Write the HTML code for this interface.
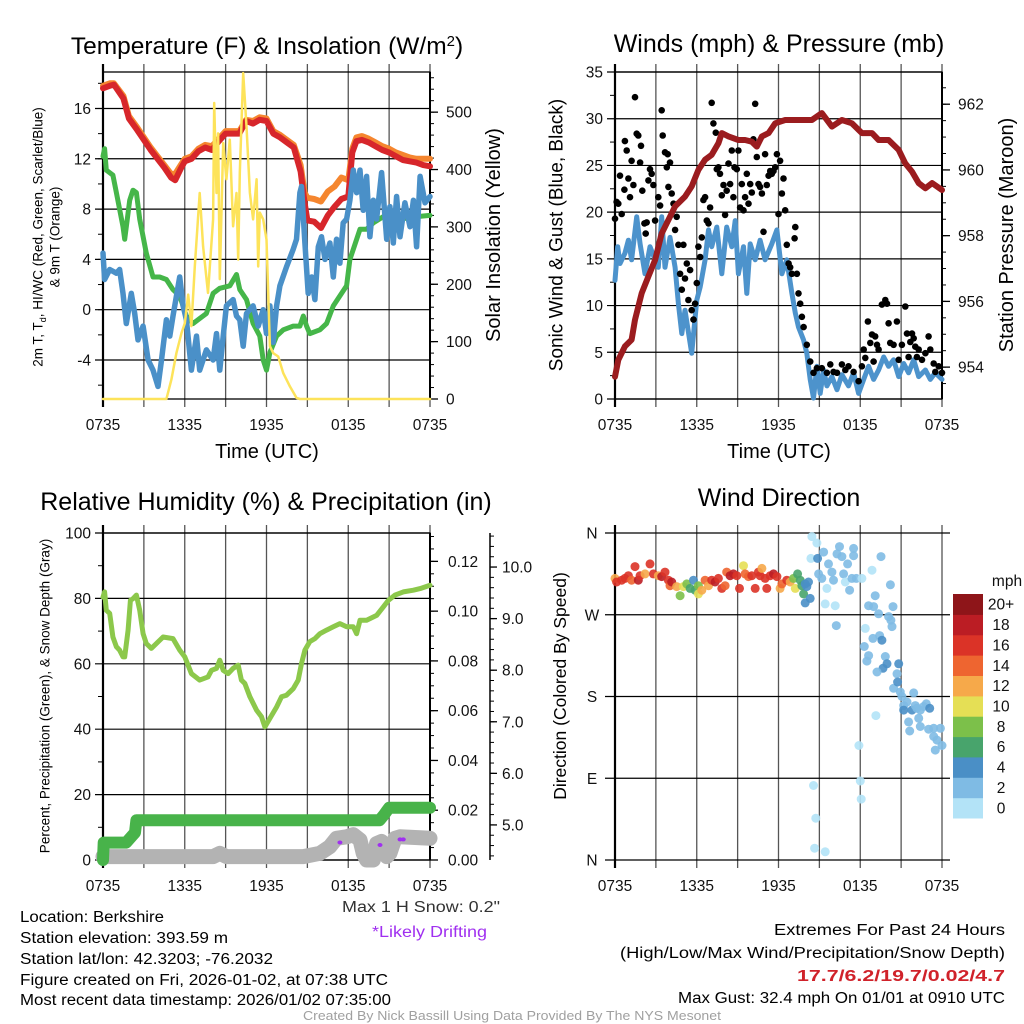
<!DOCTYPE html>
<html><head><meta charset="utf-8"><title>Berkshire Mesonet Meteogram</title>
<style>
html,body{margin:0;padding:0;background:#fff;}
svg{display:block;font-family:"Liberation Sans",sans-serif;}
</style></head>
<body>
<svg id="chart" width="1024" height="1024" viewBox="0 0 1024 1024" xmlns="http://www.w3.org/2000/svg">
<rect x="0" y="0" width="1024" height="1024" fill="#fff"/>
<text x="267" y="54" font-size="24.5" text-anchor="middle" fill="#000">Temperature (F) &amp; Insolation (W/m<tspan baseline-shift="super" font-size="15">2</tspan>)</text>
<text x="779" y="52" font-size="25" text-anchor="middle" fill="#000">Winds (mph) &amp; Pressure (mb)</text>
<text x="266" y="510" font-size="25" text-anchor="middle" fill="#000">Relative Humidity (%) &amp; Precipitation (in)</text>
<text x="779" y="506" font-size="25" text-anchor="middle" fill="#000">Wind Direction</text>

<text transform="translate(38,237) rotate(-90)" font-size="13.5" text-anchor="middle" dominant-baseline="central">2m T, T<tspan baseline-shift="sub" font-size="9">d</tspan>, HI/WC (Red, Green, Scarlet/Blue)</text>
<text transform="translate(55,237) rotate(-90)" font-size="13.5" text-anchor="middle" dominant-baseline="central">&amp; 9m T (Orange)</text>
<text transform="translate(494,235) rotate(-90)" font-size="20" text-anchor="middle" dominant-baseline="central">Solar Insolation (Yellow)</text>
<text transform="translate(557,235) rotate(-90)" font-size="19" text-anchor="middle" dominant-baseline="central">Sonic Wind &amp; Gust (Blue, Black)</text>
<text transform="translate(1007,235) rotate(-90)" font-size="20" text-anchor="middle" dominant-baseline="central">Station Pressure (Maroon)</text>
<text transform="translate(45,696) rotate(-90)" font-size="13.5" text-anchor="middle" dominant-baseline="central">Percent, Precipitation (Green), &amp; Snow Depth (Gray)</text>
<text transform="translate(560,686) rotate(-90)" font-size="17.5" text-anchor="middle" dominant-baseline="central">Direction (Colored By Speed)</text>
<text x="267" y="458" font-size="20" text-anchor="middle">Time (UTC)</text>
<text x="779" y="458" font-size="20" text-anchor="middle">Time (UTC)</text>

<g id="footer" font-size="15.5" fill="#000">
<text x="342" y="912" textLength="158" lengthAdjust="spacingAndGlyphs" fill="#333">Max 1 H Snow: 0.2"</text>
<text x="372" y="937" textLength="115" lengthAdjust="spacingAndGlyphs" fill="#a030f0">*Likely Drifting</text>
<text x="20" y="922" textLength="144" lengthAdjust="spacingAndGlyphs">Location: Berkshire</text>
<text x="20" y="943" textLength="208" lengthAdjust="spacingAndGlyphs">Station elevation: 393.59 m</text>
<text x="20" y="964" textLength="253" lengthAdjust="spacingAndGlyphs">Station lat/lon: 42.3203; -76.2032</text>
<text x="20" y="985" textLength="368" lengthAdjust="spacingAndGlyphs">Figure created on Fri, 2026-01-02, at 07:38 UTC</text>
<text x="20" y="1005" textLength="371" lengthAdjust="spacingAndGlyphs">Most recent data timestamp: 2026/01/02 07:35:00</text>
<text x="774" y="935" textLength="231" lengthAdjust="spacingAndGlyphs">Extremes For Past 24 Hours</text>
<text x="620" y="958" textLength="385" lengthAdjust="spacingAndGlyphs">(High/Low/Max Wind/Precipitation/Snow Depth)</text>
<text x="797" y="981" textLength="208" lengthAdjust="spacingAndGlyphs" fill="#d0222a" font-weight="bold">17.7/6.2/19.7/0.02/4.7</text>
<text x="678" y="1003" textLength="327" lengthAdjust="spacingAndGlyphs">Max Gust: 32.4 mph On 01/01 at 0910 UTC</text>
<text x="303" y="1020" textLength="418" lengthAdjust="spacingAndGlyphs" font-size="12.5" fill="#a0a0a0">Created By Nick Bassill Using Data Provided By The NYS Mesonet</text>
</g>
</svg>
<script>
// ---------------- DATA ----------------
const timeTickLabels = ['0735','1335','1935','0135','0735'];
const timeTickHours = [0,6,12,18,24];

// Temperature panel
const tempTimes = [0,0.5,0.8,1.5,1.9,2.5,3,3.5,4,4.5,5,5.3,5.7,6,6.5,7,7.5,8,8.5,9,9.5,10,10.5,11,11.5,12,12.5,13,13.5,14,14.5,14.8,15,15.5,16,16.5,17,17.5,18,18.3,18.6,19,19.5,20,20.5,21,21.5,22,22.5,23,23.5,24];
const tempRed = [17.6,17.8,17.9,16.8,15.2,14.3,13.5,12.7,12,11.3,10.5,10.3,11.2,11.8,12,12.6,12.9,12.7,13.4,14,14,14,15,14.8,15.1,15,14,13.7,13.3,12.9,11,8.5,7.1,7,6.5,7.5,8.2,8.8,9,12.5,13.4,13.5,13.3,13,12.7,12.5,12.2,11.9,11.8,11.7,11.5,11.4];
const temp9m = [17.8,18,18,17,15.4,14.5,13.7,12.9,12.2,11.5,10.8,10.8,11.5,12,12.2,12.8,13.1,13,13.6,14.2,14.2,14.2,15.1,15,15.3,15.2,14.2,13.9,13.5,13.1,11.5,9.3,8.9,8.8,8.6,9.4,9.8,10.5,10.3,12.8,13.7,13.8,13.6,13.3,13,12.8,12.5,12.3,12.1,12,12,12];
const dewTimes = [0,0.12,0.24,0.73,0.98,1.47,1.59,1.96,2.2,2.45,2.69,3.18,3.67,4.16,4.65,5.14,5.63,6.12,6.61,7.1,7.59,8.08,8.57,9.31,9.8,10.04,10.53,11.02,11.51,11.76,12,12.25,12.74,13.23,13.96,14.45,14.7,14.94,15.18,15.92,16.41,16.9,17.39,17.88,18.12,18.37,18.86,19.35,19.84,20.57,21.8,23.02,24];
const dewValues = [12.2,12.8,11.1,10.7,9.3,6.6,5.6,8.7,9.5,9.3,7.2,4.5,2.6,2.6,2.4,1.6,1.1,-0.5,-1.1,-0.7,-0.3,1.3,1.7,1.9,2.8,1.6,0.8,-1.1,-2.1,-4,-4.8,-3.4,-2.1,-1.6,-1.3,-1.3,-0.5,-1.3,-1.9,-1.6,-1.1,0.3,1.1,1.9,4,4.8,6.4,6.4,6.9,7.4,7.2,7.4,7.5];
const chillTimes = [0,0.12,0.49,0.98,1.22,1.47,1.71,2.08,2.33,2.57,2.94,3.31,3.67,4.04,4.29,4.65,4.9,5.14,5.63,5.88,6.12,6.49,6.86,7.1,7.59,8.08,8.33,8.57,8.82,9.06,9.55,9.8,10.04,10.29,10.53,11.02,11.39,11.76,12,12.25,12.49,12.74,12.98,13.47,13.96,14.2,14.45,14.57,14.82,15.06,15.31,15.55,15.8,16.04,16.29,16.65,16.9,17.14,17.39,17.63,17.88,18.12,18.37,18.61,18.86,19.1,19.35,19.59,19.84,20.08,20.45,20.82,21.06,21.31,21.55,21.8,22.16,22.53,22.78,23.02,23.27,23.63,24];
const chillValues = [4.5,2.4,3.2,2.9,3.2,1.3,-1.1,1.3,-0.3,-2.4,-1.3,-4,-4.8,-6.1,-4,-0.8,-2.1,-0.5,2.6,0.3,-0.8,-4.8,-2.1,-4.8,-3.2,-4,-1.9,-4.8,-2.1,0.3,0.8,-0.5,-0.8,-2.9,-0.3,0.3,-1.3,0,-1.9,0.3,-2.6,0.3,1.9,3.4,4.8,5.6,9.3,9.8,5.3,1.3,2.6,0.8,5,5.8,4,5.3,2.6,5.6,3.7,6.9,7.2,8.7,11.1,9.3,11.1,7.9,10.6,5.8,8.7,7.2,10.9,5.6,8.2,5.3,9,5.8,8.5,6.6,8.7,5,10.6,8.5,9];
const solarTimes = [0,4.65,5.02,5.39,5.76,6,6.25,6.49,6.74,7.1,7.35,7.71,8.08,8.16,8.33,8.45,8.57,8.82,9.06,9.31,9.55,9.8,9.92,10.04,10.29,10.53,10.78,11.02,11.27,11.39,11.51,11.76,12,12.25,12.49,12.86,13.23,13.72,14.2,14.45,24];
const solarValues = [0,0,34,80,115,132,182,127,231,359,266,185,313,516,359,463,209,446,383,452,301,359,243,394,568,475,359,313,383,231,325,313,278,92,80,74,45,22,2,0,0];
const tempTicks = [-4,0,4,8,12,16];
const solarTicks = [0,100,200,300,400,500];

// Wind panel
const windTimes = [0,0.2,0.37,0.73,0.98,1.22,1.59,1.84,2.2,2.57,2.94,3.18,3.43,3.67,4.04,4.41,4.65,4.9,5.14,5.63,6,6.25,6.61,6.86,7.1,7.47,7.84,8.2,8.57,8.82,9.06,9.43,9.67,9.92,10.29,10.65,11.02,11.51,11.88,12.25,12.61,12.98,13.23,13.47,13.84,14.08,14.33,14.57,14.82,15.06,15.31,15.55,15.92,16.29,16.65,17.14,17.51,17.88,18.25,18.61,18.98,19.35,19.72,20.08,20.45,20.82,21.19,21.55,21.92,22.29,22.78,23.14,23.51,24];
const windValues = [12.7,16.3,14.5,15.6,17,14.9,19.5,16.6,13.4,16.3,14.9,14.1,19.5,14.1,17.3,14.1,10.2,7,9.5,4.9,10.6,12,14.9,18.1,16.3,18.4,13.4,18.4,16.3,19.1,13.4,16.3,11.3,16.6,14.9,17,14.9,16.6,18.1,13.4,14.9,11.3,9.2,7.7,6.3,4.9,2.1,0.1,3.5,0.6,3.1,1.4,2.4,1,2.6,1.4,2.8,0.6,2.1,3.5,2.1,3.1,4.5,3.5,4.2,2.4,3.8,2.8,4.2,2.4,3.1,2.1,2.8,2.1];
const gustTimes = [0,0.12,0.24,0.49,0.37,0.73,0.86,0.69,0.98,1.1,1.22,1.35,1.47,1.59,1.71,1.84,1.91,2.0,2.16,2.25,2.33,2.45,2.57,2.69,2.82,2.94,3.18,3.31,3.43,3.5,3.67,3.87,3.8,3.92,4.04,4.16,4.29,4.41,4.53,4.65,4.78,4.9,5.02,5.14,5.27,5.39,5.51,5.63,5.76,5.88,6,6.12,6.25,6.37,6.49,6.61,6.74,6.86,6.98,7.1,7.22,7.4,7.47,7.59,7.71,7.84,7.96,8.08,8.2,8.33,8.45,8.57,8.69,8.77,8.94,9.06,9.18,9.31,9.43,9.55,9.67,9.8,9.92,10.04,10.16,10.29,10.41,10.53,10.65,10.78,10.9,11.02,11.14,11.27,11.39,11.51,11.63,11.76,11.88,12,12.12,12.25,12.37,12.49,12.61,12.74,12.86,12.98,13.18,13.23,13.35,13.47,13.59,13.72,13.84,14.08,14.33,14.57,14.82,15.18,15.55,15.8,16.04,16.29,16.65,16.9,17.14,17.51,17.88,18.12,18.25,18.37,18.56,18.74,18.86,18.98,19.1,19.23,19.35,19.59,19.84,19.96,20.08,20.2,20.45,20.69,20.82,21.06,21.31,21.43,21.55,21.67,21.8,21.92,22.04,22.16,22.29,22.53,22.78,23.02,23.14,23.39,23.51,23.76,24];
const gustValues = [19.3,21.1,20.9,19.8,23.9,27.6,26.6,22.4,23.6,21.6,25.5,22.9,32.3,28.4,28.2,25.3,27.1,22.3,18.8,17.7,18.9,23.4,24.6,24.1,22.9,19.1,21.6,20.7,30.9,28.2,26.4,26.2,24.8,22.7,25.3,22,20.9,18.1,19.5,16.5,13.4,11.7,16.5,12.9,14.5,10.6,13.8,9.5,8.5,10.2,12.4,16.3,15.2,17.3,21.3,21.6,19.1,18.8,20.5,31.7,29.5,28.5,24.6,24.8,24.1,21.8,22.9,19.7,22.3,25.2,23,26.6,21.6,24.8,24.6,26.6,20.5,23,20.2,21.6,24.1,20.9,23,22.1,27.8,31.6,25.9,23,22.7,22,17.9,26.2,22.9,23.9,24.4,24.1,24.4,24.8,26.2,19.8,25.5,22,23.6,20.2,16.5,14.5,14.1,13.4,17.2,18.4,13.4,11.3,10.2,8.8,7.7,5.8,4,2.8,3.3,3.3,2.8,3.7,2.9,2.8,3.7,3.1,3.5,2.9,1.9,3.5,5.3,4.4,8.3,6,6.9,4,6.7,5.8,5.3,10.1,10.6,10.2,8.1,6,5.8,8.3,4.2,5.8,9.9,7,4.5,6.1,7,6.5,5.6,4.5,5.3,4.2,4.9,6.7,5.3,3.8,2.9,3.5,2.8];
const pressTimes = [0,0.24,0.73,1.22,1.47,1.96,2.45,2.94,3.43,3.92,4.41,5.14,5.63,6.12,6.61,7.1,7.59,7.84,8.33,9.06,9.55,10.04,10.41,10.78,11.27,11.76,12.49,13.47,14.45,15.18,15.92,16.65,17.39,18.12,18.86,19.35,20.08,20.82,21.31,21.8,22.29,22.78,23.27,24];
const pressValues = [953.71,954.22,954.63,954.83,955.44,956.25,956.76,957.26,958.07,958.48,958.89,959.19,959.5,960.0,960.31,960.46,960.81,961.12,961.02,960.91,960.91,960.86,960.71,961.02,961.12,961.42,961.52,961.52,961.52,961.73,961.32,961.52,961.42,961.12,961.12,960.91,960.91,960.61,960.2,959.95,959.6,959.44,959.6,959.39];
const windTicks = [0,5,10,15,20,25,30,35];
const pressTicks = [954,956,958,960,962];

// Humidity panel
const rhTimes = [0,0.12,0.24,0.49,0.73,0.98,1.22,1.47,1.59,1.84,2.01,2.2,2.45,2.69,2.94,3.18,3.55,3.92,4.41,5.14,5.63,6,6.49,7.1,7.71,7.96,8.33,8.57,8.82,9.18,9.55,9.92,10.16,10.41,10.78,11.27,11.63,11.88,12.25,12.74,13.1,13.47,13.96,14.33,14.57,14.82,15.18,15.55,15.92,16.41,16.9,17.39,17.88,18.37,18.61,18.86,19.35,20.08,20.57,20.94,21.43,22.04,22.78,23.27,24];
const rhValues = [80.4,82,76.4,75.4,68.2,65.2,64.2,62.1,62.1,70.3,79.4,79.9,81,76.4,69.2,66.2,64.7,66.2,68.2,67.7,64.2,62.1,57,55,56,58,58.6,61.1,58,57,58.6,59.6,55,54,49.9,45.8,43.8,40.7,43.3,46.8,49.9,50.4,52.4,55,60.1,64.2,66.8,67.7,69.2,70.3,71.3,72.3,71.3,71.3,69.2,73.3,73.3,74.8,77.4,79.4,81,82,82.5,83,84];
const precipTimes = [0,0.05,1.7,2.1,2.35,2.45,20.3,20.6,21,24];
const precipValues = [0,0.007,0.007,0.0095,0.011,0.016,0.016,0.018,0.021,0.021];
const snowTimes = [0,8.08,8.57,9.06,14.7,15.92,16.65,17.14,17.88,18.37,18.86,19.1,19.35,19.84,20.08,20.45,20.82,21.06,21.43,21.8,24];
const snowValues = [4.385,4.385,4.45,4.385,4.385,4.45,4.58,4.74,4.77,4.81,4.71,4.45,4.32,4.32,4.64,4.68,4.385,4.45,4.74,4.77,4.74];
const driftTimes = [17.39,20.33,21.8,22.04];
const driftValues = [4.66,4.61,4.72,4.72];
const rhTicks = [0,20,40,60,80,100];
const precipTicks = [0,0.02,0.04,0.06,0.08,0.10,0.12];
const snowTicks = [5,6,7,8,9,10];

// Wind direction panel
const dirTimes = [0,0.12,0.49,0.73,0.98,1.22,1.47,1.71,1.84,2.2,2.57,2.82,3.18,3.43,3.67,3.92,4.04,4.16,4.53,4.78,5.02,5.27,5.51,5.76,5.88,6.12,6.12,6.37,6.61,6.86,7.1,7.35,7.59,7.84,8.08,8.2,8.45,8.69,8.94,9.14,9.43,9.55,9.8,10.04,10.29,10.53,10.65,10.78,11.02,11.14,11.39,11.63,11.88,12.12,12.25,12.61,12.86,13.1,13.23,13.4,13.59,13.72,13.84,13.96,14.08,14.2,14.33,13.96,
 14.45,14.82,14.38,14.87,15.31,15.67,14.94,15.18,15.55,15.43,15.92,16.04,16.16,16.29,16.48,16.65,16.78,16.9,17.07,17.22,17.39,17.51,17.51,17.71,18.12,18.86,19.52,16.24,20.21,19.1,18.61,18.98,19.35,20.08,20.25,20.4,20.33,18.37,18.3,18.61,18.49,18.93,19.42,19.59,19.84,19.96,19.67,19.23,20.45,20.7,20.74,20.82,20.94,21.06,21.19,21.43,21.19,21.8,21.92,22.04,22.16,22.41,22.29,22.65,22.85,23.1,21.55,21.63,22.41,23.02,23.39,23.88,23.39,23.63,24,23.51,19.15,17.9,18.0,18.07,14.57,14.74,14.65,15.43];
const dirValues = [310,306,308,310,313,308,323,308,313,315,326,315,313,312,317,308,302,306,301,291,301,304,299,308,297,302,293,297,308,302,308,306,310,299,302,317,313,315,313,299,324,315,312,313,299,317,313,321,310,299,313,315,312,299,304,308,306,310,299,315,308,302,293,304,301,306,288,283,
 356,349,332,332,339,326,315,310,299,282,317,308,280,337,345,334,315,306,326,297,310,343,335,310,310,319,334,258,303,291,280,279,271,268,264,279,257,255,235,225,219,244,247,242,224,216,211,207,189,205,196,216,185,180,170,174,165,165,184,170,167,165,156,169,172,167,152,142,147,144,145,145,136,132,126,121,159,126,87,67,82,46,13,9];
const dirSpeeds = [13,17,16,17,16,15,17,19,16,12,17,16,13,19,16,17,15,18,13,8,10,8,6,4,6,9,10,12,14,12,16,19,16,17,15,15,18,19,17,17,10,14,15,16,16,16,16,13,17,17,16,18,17,13,15,16,12,8,10,7,6,6,6,4,4,4,4,4,
 0,1,1,4,3,3,3,2,1,1,2,2,1,2,2,2,2,1,2,2,2,2,2,2,1,1,2,2,2,2,2,2,2,3,3,2,2,1,2,2,2,2,2,4,2,4,4,2,2,2,4,4,2,2,2,2,4,4,2,2,2,2,2,2,2,4,2,2,2,2,2,2,2,2,2,2,0,1,1,1,1,1,1,1];
const dirTickLabels = ['N','E','S','W','N'];
const dirTickDegrees = [0,90,180,270,360];
const speedBinLabels = ['0','2','4','6','8','10','12','14','16','18','20+'];
const speedBinColors = ['#b3e3f7','#7fbbe4','#4a8fc6','#48a46c','#7cc04a','#e5df55','#f6a94a','#ee6530','#db3327','#bb1d24','#8e1519'];

// ---------------- DRAWING ----------------
const NS = 'http://www.w3.org/2000/svg';
const svg = document.getElementById('chart');
const footer = document.getElementById('footer');
function mk(tag) { const e = document.createElementNS(NS, tag); svg.insertBefore(e, footer); return e; }
function set(e, a) { for (const k in a) e.setAttribute(k, a[k]); return e; }
function lin(d0, d1, r0, r1) { return v => r0 + (v - d0) / (d1 - d0) * (r1 - r0); }
function pathFrom(ts, vs, X, Y) { return ts.map((t, i) => (i ? 'L' : 'M') + X(t).toFixed(1) + ',' + Y(vs[i]).toFixed(1)).join(''); }
function line(x1, y1, x2, y2, stroke, w) { const l = mk('line'); set(l, {x1, y1, x2, y2, stroke, 'stroke-width': w}); return l; }
function label(x, y, txt, anchor, size) { const t = mk('text'); set(t, {x, y, 'text-anchor': anchor, 'font-size': size || 15, fill: '#111'}); t.textContent = txt; return t; }

const GRID = '#555';
function drawFrame(x0, x1, y0, y1, X, tickY) {
  timeTickHours.forEach((h, i) => {
    const l = line(X(h), y0 - 8, X(h), y1 + 8, GRID, 1.3);
    
    
    const t = label(X(h), tickY, timeTickLabels[i], 'middle', 15.5);
    
    
  });
  [3, 9, 15, 21].forEach(h => {
    const l = line(X(h), y0 - 8, X(h), y1 + 8, GRID, 1.3);
    
    
  });
  const f = mk('rect');
  set(f, {x: x0, y: y0, width: x1 - x0, height: y1 - y0, fill: 'none', stroke: '#000', 'stroke-width': 1.3});
  
  
  const lx = line(x0, y0 - 8, x0, y1 + 8, '#000', 2.2);
  
  
}
function leftAxis(x0, x1, Y, ticks, minors, fmt, grid) {
  minors.forEach(v => { const l = line(x0 - 5, Y(v), x0, Y(v), '#000', 1);   });
  ticks.forEach(v => {
    const l = line(x0 - 8, Y(v), grid ? x1 : x0, Y(v), '#000', 1.2);
    
    
    const t = label(x0 - 12, Y(v) + 5.5, fmt(v), 'end', 15.5);
    
    
  });
}
function rightAxis(x, Y, ticks, minors, fmt, y0, y1, dir, lx) {
  const ax = line(x, y0, x, y1, '#000', 2);
  
  
  minors.forEach(v => { const l = line(x, Y(v), x + 4 * dir, Y(v), '#000', 1);   });
  ticks.forEach(v => {
    const l = line(x, Y(v), x + 8 * dir, Y(v), '#000', 1.3);
    
    
    const t = label(lx, Y(v) + 5.5, fmt(v), 'start', 15.5);
    
    
  });
}
function range(a, b, s) { const r = []; for (let v = a; v <= b + 1e-9; v += s) r.push(+v.toFixed(4)); return r; }
function series(ts, vs, X, Y, color, w, name) {
  const p = mk('path');
  set(p, {d: pathFrom(ts, vs, X, Y), fill: 'none', stroke: color, 'stroke-width': w, 'stroke-linejoin': 'round', 'stroke-linecap': 'round'});
  
  
  return p;
}

// Panel 1: temperature
{
  const X = lin(0, 24, 103, 430), Y = lin(-7.1, 18.9, 399, 72), Ys = lin(0, 570, 399, 72);
  drawFrame(103, 430, 72, 399, X, 430);
  leftAxis(103, 430, Y, tempTicks, range(-6, 18, 2), v => String(v), true);
  rightAxis(430, Ys, solarTicks, range(0, 560, 20), v => String(v), 72, 399, 1, 446);
  series(tempTimes, temp9m, X, Y, '#f5862f', 6, 'temp-9m-line');
  series(tempTimes, tempRed, X, Y, '#d7262b', 6, 'temp-2m-line');
  series(dewTimes, dewValues, X, Y, '#45b649', 5, 'dewpoint-line');
  series(chillTimes, chillValues, X, Y, '#4a90c8', 5.5, 'windchill-line');
  series(solarTimes, solarValues, X, Ys, '#fde35a', 2.5, 'insolation-line');
}
// Panel 2: winds
{
  const X = lin(0, 24, 615, 942), Y = lin(0, 35, 399, 72), Yp = lin(953.03, 962.98, 399, 72);
  drawFrame(615, 942, 72, 399, X, 430);
  leftAxis(615, 942, Y, windTicks, range(2.5, 32.5, 5), v => String(v), true);
  rightAxis(942, Yp, pressTicks, range(953.5, 962.5, 0.5), v => String(v), 72, 399, 1, 958);
  series(windTimes, windValues, X, Y, '#4d93cc', 5, 'sonic-wind-line');
  gustTimes.forEach((t, i) => {
    const c = mk('circle');
    set(c, {cx: X(t).toFixed(1), cy: Y(gustValues[i]).toFixed(1), r: 3.3, fill: '#000'});
    
    
  });
  series(pressTimes, pressValues, X, Yp, '#9b1c1f', 6, 'pressure-line');
}
// Panel 3: humidity
{
  const X = lin(0, 24, 103, 430), Y = lin(0, 100, 860, 533), Ypr = lin(0, 0.1314, 860, 533), Ysn = lin(4.32, 10.66, 860, 533);
  drawFrame(103, 430, 533, 860, X, 891);
  leftAxis(103, 430, Y, rhTicks, range(10, 90, 20), v => String(v), true);
  rightAxis(430, Ypr, precipTicks, range(0, 0.13, 0.005), v => v.toFixed(2), 533, 860, 1, 448);
  const ax = line(490, 533, 490, 860, '#000', 1.5);
  
  
  range(4.4, 10.6, 0.2).forEach(v => { const l = line(490, Ysn(v), 494, Ysn(v), '#000', 1);   });
  snowTicks.forEach(v => {
    const l = line(490, Ysn(v), 497, Ysn(v), '#000', 1.3);
    
    
    const t = label(502, Ysn(v) + 5.5, v.toFixed(1), 'start', 15.5);
    
    
  });
  series(rhTimes, rhValues, X, Y, '#8cc84b', 5, 'rh-line');
  series(snowTimes, snowValues, X, Ysn, '#b3b3b3', 15, 'snow-depth-line');
  series(precipTimes, precipValues, X, Ypr, '#48b34a', 12, 'precip-line');
  driftTimes.forEach((t, i) => {
    const c = mk('ellipse');
    set(c, {cx: X(t).toFixed(1), cy: Ysn(driftValues[i]).toFixed(1), rx: 2.5, ry: 2, fill: '#a030f0'});
    
    
  });
}
// Panel 4: wind direction
{
  const X = lin(0, 24, 615, 942), Y = lin(0, 360, 860, 533);
  timeTickHours.forEach((h, i) => {
    const t = label(X(h), 891, timeTickLabels[i], 'middle', 15.5);
    
    
  });
  [0, 3, 6, 9, 12, 15, 18, 21, 24].forEach(h => {
    const l = line(X(h), 525, X(h), 868, GRID, 1.3);
    
    
  });
  dirTickDegrees.forEach((d, i) => {
    const l = line(605, Y(d), 950, Y(d), '#000', 1.2);
    
    
    const t = label(592, Y(d) + 5.5, dirTickLabels[i], 'middle', 15.5);
    
    
  });
  const ax = line(615, 525, 615, 868, '#000', 2.2);
  
  
  dirTimes.forEach((t, i) => {
    const bin = Math.min(10, Math.floor(dirSpeeds[i] / 2));
    const c = mk('circle');
    set(c, {cx: X(t).toFixed(1), cy: Y(dirValues[i]).toFixed(1), r: 4.5, fill: speedBinColors[bin], 'fill-opacity': 0.9});
    
    
  });
  const cbTop = 594, cbH = 224 / 11;
  const u = label(1007, 586, 'mph', 'middle', 15.5);
  
  
  speedBinLabels.forEach((lab, i) => {
    const k = 10 - i;
    const r = mk('rect');
    set(r, {x: 953, y: (cbTop + k * cbH).toFixed(1), width: 30, height: (cbH + 0.5).toFixed(1), fill: speedBinColors[i]});
    
    
    const t = label(1001, cbTop + k * cbH + cbH / 2 + 5.5, lab, 'middle', 15.5);
    
    
  });
}
</script>
</body></html>
